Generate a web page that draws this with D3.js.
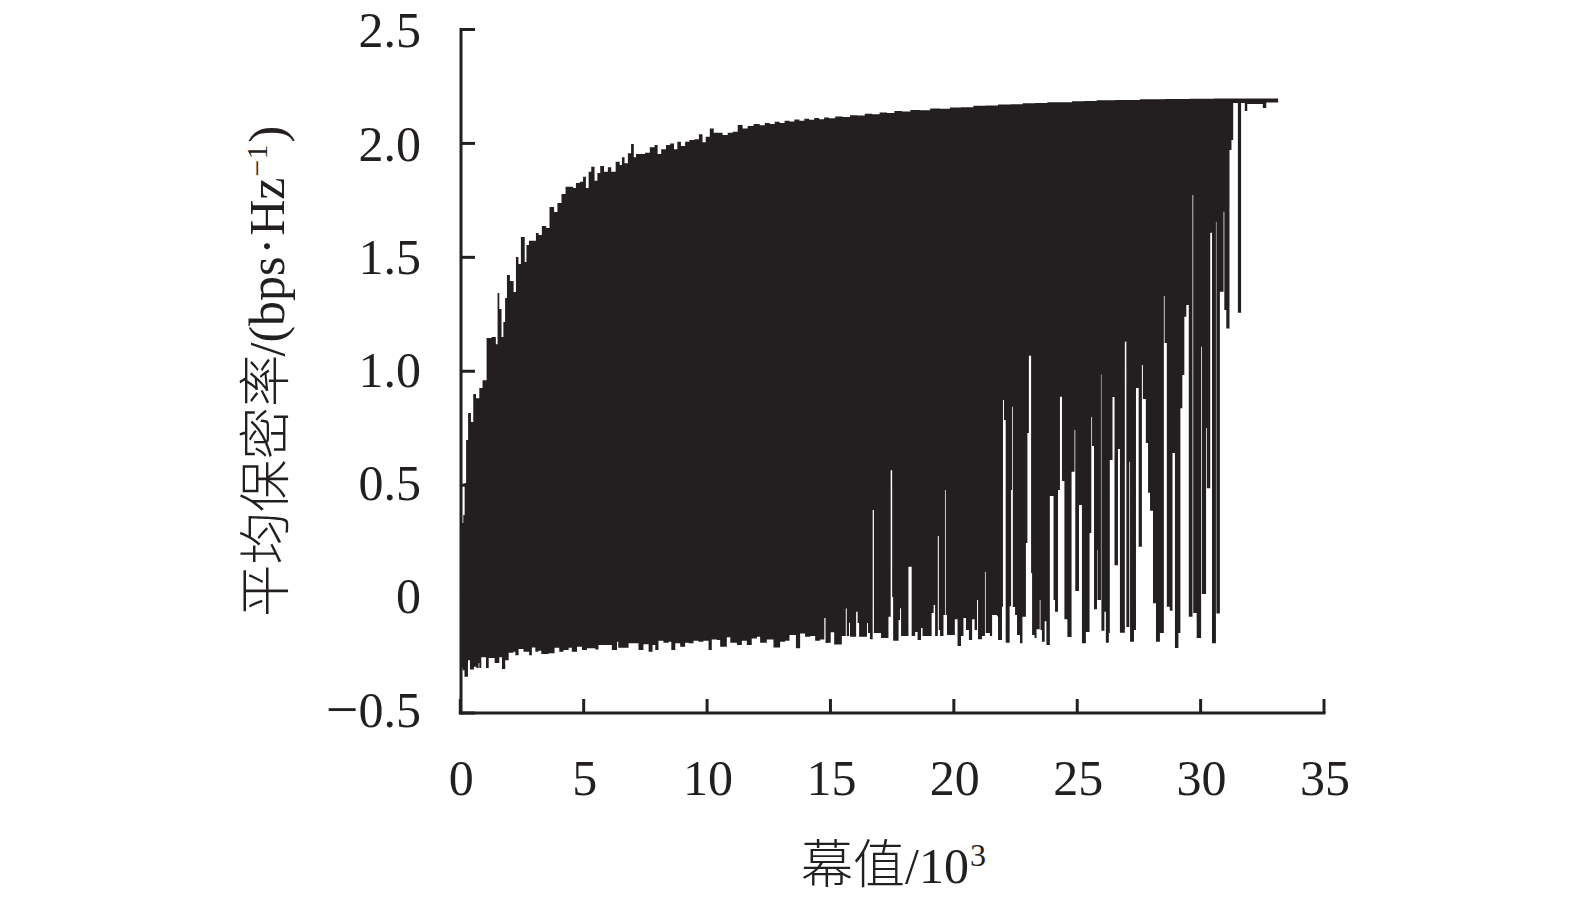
<!DOCTYPE html>
<html><head><meta charset="utf-8">
<script src="https://cdn.jsdelivr.net/npm/d3@7"></script>
<style>html,body{margin:0;padding:0;background:#fff}svg{display:block}</style></head>
<body><svg id="c" width="1575" height="904"></svg>
<script>
const xTicks=[0,5,10,15,20,25,30,35];
const yTicks=[-0.5,0,0.5,1.0,1.5,2.0,2.5];
const yTickLabels=["0.5","0","0.5","1.0","1.5","2.0","2.5"];
const upperX=[0,0.05,0.11,0.16,0.23,0.32,0.46,0.51,0.68,0.78,0.94,1.11,1.35,1.45,1.49,1.59,1.67,1.74,1.81,1.89,2.05,2.19,2.24,2.39,2.44,2.55,2.59,2.69,2.79,2.98,3.07,3.20,3.33,3.55,3.60,3.71,3.81,3.98,4.14,4.31,4.48,4.58,4.71,4.89,4.98,5.12,5.20,5.33,5.47,5.56,5.70,5.87,6.01,6.14,6.37,6.47,6.55,6.68,6.82,6.94,7.04,7.12,7.37,7.52,7.76,7.90,8.01,8.19,8.40,8.53,8.71,8.80,9.00,9.14,9.34,9.55,9.71,9.84,9.97,10.17,10.29,10.49,10.69,10.90,11.10,11.30,11.50,11.71,11.98,12.2,12.4,12.6,12.8,13.0,13.2,13.4,13.6,13.8,14.0,14.2,14.4,14.6,14.8,15,15.3,15.6,15.9,16.2,16.5,16.8,17.1,17.4,17.7,18,18.4,18.8,19.2,19.6,20,20.5,21,21.5,22,22.5,23,23.5,24,24.5,25,25.5,26,27,28,29,30,31,32,33.1];
const upperY=[0.3,0.334,0.369,0.509,0.698,0.817,0.777,0.900,0.882,0.926,0.961,1.146,1.150,1.119,1.343,1.273,1.150,1.216,1.321,1.422,1.396,1.348,1.501,1.471,1.589,1.589,1.479,1.554,1.573,1.573,1.607,1.598,1.637,1.629,1.721,1.721,1.699,1.738,1.778,1.810,1.810,1.804,1.826,1.832,1.854,1.804,1.876,1.898,1.836,1.870,1.901,1.876,1.895,1.876,1.920,1.905,1.939,1.913,1.957,1.997,1.939,1.954,1.954,1.959,1.983,1.993,1.954,1.974,1.993,2.000,1.974,2.007,1.989,2.007,2.015,2.018,2.040,2.005,2.029,2.066,2.047,2.047,2.037,2.047,2.051,2.081,2.066,2.076,2.085,2.08,2.09,2.085,2.095,2.09,2.10,2.096,2.105,2.10,2.108,2.104,2.112,2.106,2.114,2.11,2.118,2.116,2.124,2.122,2.13,2.128,2.136,2.134,2.142,2.14,2.147,2.146,2.153,2.152,2.158,2.159,2.165,2.166,2.171,2.172,2.176,2.177,2.181,2.181,2.185,2.186,2.189,2.191,2.194,2.195,2.196,2.197,2.197,2.197];
const lowerX=[0,0.05,0.13,0.27,0.35,0.51,0.61,0.70,0.73,0.81,1.00,1.11,1.35,1.54,1.65,1.78,1.92,2.11,2.19,2.32,2.52,2.75,2.86,3.0,3.12,3.24,3.54,3.78,3.97,4.14,4.35,4.48,4.69,4.89,5.09,5.43,5.56,5.83,6.10,6.31,6.36,6.78,6.98,7.18,7.38,7.59,7.75,7.86,7.99,8.19,8.40,8.51,8.67,8.87,9.07,9.21,9.41,9.61,9.81,10.02,10.15,10.36,10.49,10.76,10.90,11.17,11.37,11.57,11.77,11.98,12.11,12.38,12.65,12.92,13.12,13.30,13.56,13.73,13.93,14.14,14.34,14.54,14.71,14.76,14.85,14.97,15.11,15.42,15.58,15.62,15.71,15.75,16.0,16.06,16.12,16.44,16.48,16.56,16.67,16.72,17.01,17.31,17.40,17.46,17.50,17.72,17.78,17.82,18.12,18.25,18.39,18.49,18.63,18.69,19.06,19.14,19.20,19.31,19.35,19.40,19.54,19.60,19.63,19.68,20.00,20.11,20.25,20.35,20.45,20.57,20.70,20.80,20.90,20.94,21.10,21.22,21.25,21.42,21.51,21.71,21.75,21.91,21.95,21.99,22.06,22.22,22.28,22.32,22.35,22.44,22.52,22.64,22.74,22.88,22.94,23.00,23.09,23.13,23.23,23.31,23.44,23.47,23.53,23.64,23.71,23.85,24.0,24.06,24.18,24.26,24.34,24.44,24.56,24.73,24.85,24.88,25.03,25.15,25.31,25.46,25.53,25.56,25.64,25.76,25.78,25.92,25.94,26.06,26.12,26.24,26.28,26.39,26.47,26.61,26.69,26.89,26.95,27.07,27.10,27.26,27.34,27.45,27.58,27.62,27.74,27.83,27.91,28.03,28.15,28.31,28.47,28.50,28.59,28.71,28.82,28.92,29.06,29.14,29.22,29.30,29.38,29.48,29.63,29.66,29.80,29.98,30.01,30.18,30.21,30.35,30.42,30.58,30.60,30.74,30.89,30.92,31.00,31.13,31.21,31.28,31.47,31.60,31.75,31.85,32.48,32.62,33.1];
const lowerY=[-0.3,-0.312,-0.341,-0.268,-0.309,-0.297,-0.303,-0.281,-0.303,-0.255,-0.303,-0.259,-0.280,-0.255,-0.307,-0.268,-0.236,-0.231,-0.246,-0.219,-0.231,-0.246,-0.212,-0.231,-0.227,-0.241,-0.238,-0.214,-0.231,-0.224,-0.214,-0.231,-0.209,-0.224,-0.216,-0.221,-0.202,-0.202,-0.224,-0.187,-0.214,-0.194,-0.194,-0.224,-0.198,-0.231,-0.202,-0.224,-0.183,-0.192,-0.187,-0.224,-0.194,-0.209,-0.192,-0.194,-0.183,-0.187,-0.183,-0.224,-0.177,-0.180,-0.209,-0.168,-0.192,-0.202,-0.183,-0.202,-0.173,-0.165,-0.192,-0.177,-0.212,-0.187,-0.183,-0.158,-0.216,-0.151,-0.165,-0.162,-0.183,-0.177,-0.083,-0.193,-0.192,-0.146,-0.199,-0.162,-0.041,-0.162,-0.104,-0.165,-0.056,-0.105,-0.165,-0.105,-0.149,-0.176,0.391,-0.149,-0.171,-0.078,0.566,0.009,-0.183,-0.092,-0.040,-0.162,0.142,-0.162,-0.145,-0.180,-0.127,-0.162,-0.061,-0.026,-0.162,0.277,-0.136,-0.162,-0.070,0.479,-0.070,-0.158,-0.088,-0.206,-0.162,-0.083,-0.136,-0.180,-0.088,-0.136,-0.004,-0.176,-0.162,0.120,-0.149,-0.162,-0.070,-0.075,-0.180,-0.034,0.874,0.786,-0.192,-0.031,0.479,0.844,-0.035,-0.070,-0.158,-0.194,-0.078,0.246,0.729,1.068,0.114,-0.158,-0.171,-0.132,-0.004,-0.136,-0.187,-0.097,-0.202,0.453,-0.004,-0.056,0.479,0.888,0.518,-0.088,-0.166,0.559,0.742,0.036,0.413,-0.194,-0.144,0.290,0.799,0.672,-0.045,0.215,-0.004,0.986,-0.139,-0.056,-0.192,-0.149,0.610,0.887,0.149,0.659,-0.148,1.130,-0.123,0.603,-0.187,-0.136,0.926,0.230,1.027,0.878,0.685,0.467,0.388,-0.018,-0.187,-0.149,1.330,1.124,-0.034,-0.051,0.641,-0.215,-0.149,0.838,0.983,1.239,1.291,-0.078,1.774,-0.061,-0.171,1.108,0.022,0.751,0.487,1.608,-0.194,1.656,-0.063,1.349,1.700,1.269,1.188,1.971,2.015,2.177,1.257,2.177,2.142,2.173,2.155,2.180,2.185];

const ink="#231f20";
const svg=d3.select("#c");
const x=d3.scaleLinear().domain([0,35]).range([461.3,1325]);
const y=d3.scaleLinear().domain([-0.5,2.5]).range([713,29.5]);
const yLabel=d3.scaleLinear().domain([-0.5,2.5]).range([726.7,47.3]);

const up=upperX.map((v,i)=>[v,upperY[i]]);
const lo=lowerX.map((v,i)=>[v,lowerY[i]]).reverse();
const upPath=d3.line().x(d=>x(d[0])).y(d=>y(d[1])).curve(d3.curveStep)(up);
const loPath=d3.line().x(d=>x(d[0])).y(d=>y(d[1])).curve(d3.curveStepBefore)(lo);
svg.append("path").attr("d",upPath+"L"+loPath.slice(1)+"Z").attr("fill",ink);

const serif="'Liberation Serif','Times New Roman',serif";
const cjk="'Noto Sans CJK SC',sans-serif";
const fs=50;

const yAxis=d3.axisLeft(y).tickValues(yTicks).tickSize(-14).tickSizeOuter(0).tickPadding(0).offset(0).tickFormat((d,i)=>yTickLabels[i]);
const xAxis=d3.axisBottom(x).tickValues(xTicks).tickSize(-14).tickSizeOuter(0).tickPadding(0).offset(0).tickFormat(d=>d);
const gy=svg.append("g").attr("transform","translate(461,0)").call(yAxis);
const gx=svg.append("g").attr("transform","translate(-1,713)").call(xAxis);
[gy,gx].forEach(g=>{
  g.selectAll(".domain").attr("stroke",ink).attr("stroke-width",3).attr("stroke-linecap","square").attr("fill","none");
  g.selectAll(".tick line").attr("stroke",ink).attr("stroke-width",3);
  g.selectAll("text").attr("fill",ink).attr("font-family",serif).attr("font-size",fs);
});
gy.selectAll("text").attr("x",-40).attr("dy",0).attr("y",d=>yLabel(d)-y(d)).attr("text-anchor","end");
gy.selectAll("text").filter(d=>d<0).text("").call(t=>{
  t.append("tspan").attr("font-size",58).attr("dy",2).text("\u2212");
  t.append("tspan").attr("dy",-2).text("0.5");
});
gx.selectAll("text").attr("x",1).attr("y",82).attr("dy",0);

// x title
const xt=svg.append("text").attr("x",801).attr("y",883).attr("fill",ink).attr("font-family",serif).attr("font-size",fs);
xt.append("tspan").attr("font-family",cjk).attr("font-size",52).attr("font-weight",300).text("幕值");
xt.append("tspan").text("/10");
xt.append("tspan").attr("font-size",32).attr("dx",1).attr("dy",-17).text("3");

// y title
const yt=svg.append("text").attr("transform","translate(283.5,617) rotate(-90)").attr("fill",ink).attr("font-family",serif).attr("font-size",fs);
yt.append("tspan").attr("font-family",cjk).attr("font-size",52.5).attr("font-weight",300).text("平均保密率");
yt.append("tspan").attr("dx",-2).text("/(bps");
yt.append("tspan").attr("dx",2).text("·");
yt.append("tspan").attr("dx",2).text("Hz");
yt.append("tspan").attr("font-size",30).attr("dy",-17).attr("dx",1).text("\u22121");
yt.append("tspan").attr("dy",17).attr("dx",2).text(")");
</script></body></html>
